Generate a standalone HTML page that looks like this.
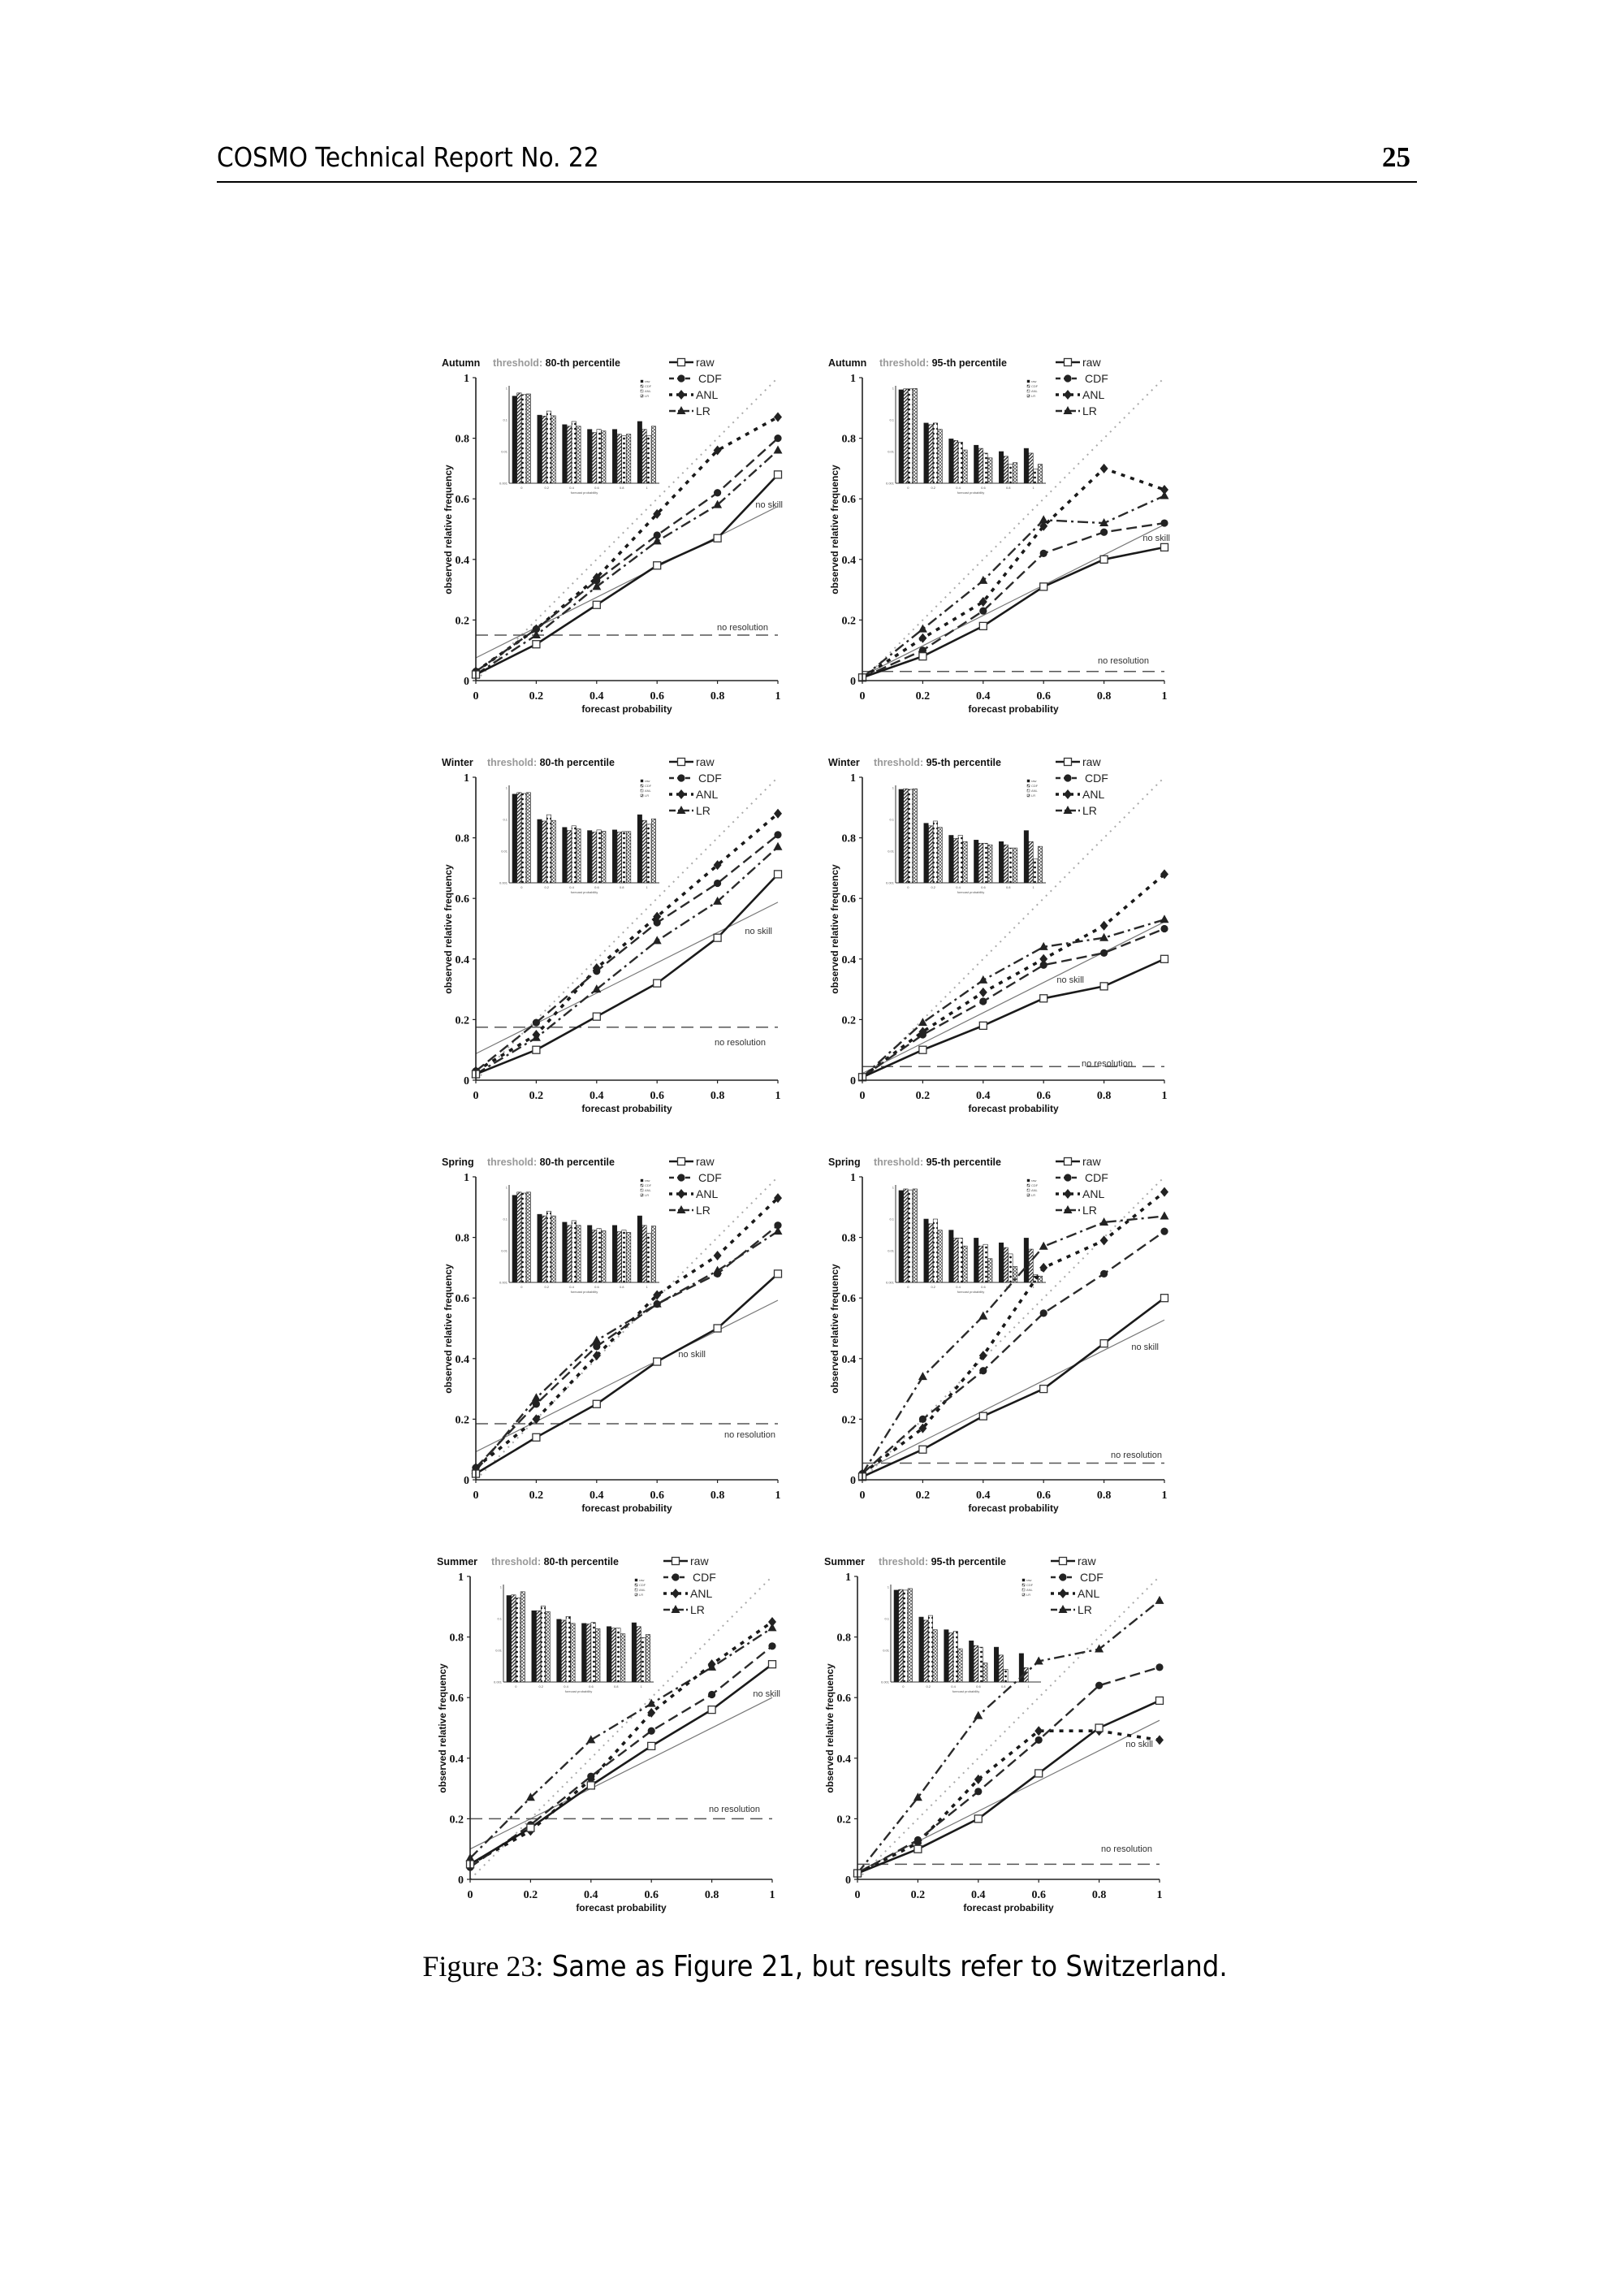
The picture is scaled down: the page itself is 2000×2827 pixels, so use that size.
<!DOCTYPE html>
<html><head><meta charset="utf-8">
<style>
html,body{margin:0;padding:0;background:#fff;}
body{width:2000px;height:2827px;position:relative;overflow:hidden;}
.hdr{position:absolute;left:267px;top:174px;font-family:"DejaVu Sans Condensed","DejaVu Sans","Liberation Sans",sans-serif;font-size:33px;color:#000;}
.pg{position:absolute;left:1702px;top:174px;font-family:"Liberation Serif",serif;font-weight:bold;font-size:35px;}
.rule{position:absolute;left:267px;top:223px;width:1478px;height:2px;background:#000;}
.cap{position:absolute;left:0;width:2032px;top:2400px;text-align:center;font-family:"DejaVu Sans Condensed","DejaVu Sans",sans-serif;font-size:36px;}
.cap span{font-family:"Liberation Serif",serif;}
svg{position:absolute;left:0;top:0;}
.t{font-family:"Liberation Sans",sans-serif;font-weight:bold;font-size:12.5px;fill:#111;}
.lg{font-family:"Liberation Sans",sans-serif;font-size:14px;fill:#222;}
.tk{font-family:"Liberation Serif",serif;font-weight:bold;font-size:14px;fill:#111;}
.al{font-family:"Liberation Sans",sans-serif;font-weight:bold;font-size:12px;fill:#111;}
.nn{font-family:"Liberation Sans",sans-serif;font-size:11px;fill:#333;}
.mi{font-family:"Liberation Sans",sans-serif;font-size:4px;fill:#555;}
</style></head><body>
<div class="hdr">COSMO Technical Report No. 22</div>
<div class="pg">25</div>
<div class="rule"></div>
<div class="cap"><span>Figure 23:</span> Same as Figure 21, but results refer to Switzerland.</div>
<svg id="s" width="2000" height="2827" xmlns="http://www.w3.org/2000/svg">
<defs>
<pattern id="ph" width="3" height="3" patternUnits="userSpaceOnUse" patternTransform="rotate(45)"><rect width="3" height="3" fill="#fff"/><rect width="1.3" height="3" fill="#222"/></pattern>
<pattern id="pd" width="5" height="6" patternUnits="userSpaceOnUse"><rect width="5" height="6" fill="#fff"/><circle cx="2.5" cy="3" r="1.4" fill="#111"/></pattern>
<pattern id="px" width="4" height="4" patternUnits="userSpaceOnUse"><rect width="4" height="4" fill="#fff"/><path d="M0 0L4 4M4 0L0 4" stroke="#444" stroke-width="0.7"/></pattern>
</defs>
<g id="p0" transform="translate(586,465)">
<text class="t" x="-42" y="-14">Autumn</text><text class="t" x="21" y="-14"><tspan fill="#999">threshold:</tspan> 80-th percentile</text>
<text class="nn" x="378" y="160" text-anchor="end">no skill</text><text class="nn" x="360" y="311" text-anchor="end">no resolution</text>
</g>
<g id="p1" transform="translate(1062,465)">
<text class="t" x="-42" y="-14">Autumn</text><text class="t" x="21" y="-14"><tspan fill="#999">threshold:</tspan> 95-th percentile</text>
<text class="nn" x="379" y="201" text-anchor="end">no skill</text><text class="nn" x="353" y="352" text-anchor="end">no resolution</text>
</g>
<g id="p2" transform="translate(586,957)">
<text class="t" x="-42" y="-14">Winter</text><text class="t" x="14" y="-14"><tspan fill="#999">threshold:</tspan> 80-th percentile</text>
<text class="nn" x="365" y="193" text-anchor="end">no skill</text><text class="nn" x="357" y="330" text-anchor="end">no resolution</text>
</g>
<g id="p3" transform="translate(1062,957)">
<text class="t" x="-42" y="-14">Winter</text><text class="t" x="14" y="-14"><tspan fill="#999">threshold:</tspan> 95-th percentile</text>
<text class="nn" x="273" y="253" text-anchor="end">no skill</text><text class="nn" x="333" y="356" text-anchor="end">no resolution</text>
</g>
<g id="p4" transform="translate(586,1449)">
<text class="t" x="-42" y="-14">Spring</text><text class="t" x="14" y="-14"><tspan fill="#999">threshold:</tspan> 80-th percentile</text>
<text class="nn" x="283" y="222" text-anchor="end">no skill</text><text class="nn" x="369" y="321" text-anchor="end">no resolution</text>
</g>
<g id="p5" transform="translate(1062,1449)">
<text class="t" x="-42" y="-14">Spring</text><text class="t" x="14" y="-14"><tspan fill="#999">threshold:</tspan> 95-th percentile</text>
<text class="nn" x="365" y="213" text-anchor="end">no skill</text><text class="nn" x="369" y="346" text-anchor="end">no resolution</text>
</g>
<g id="p6" transform="translate(579,1941)">
<text class="t" x="-41" y="-14">Summer</text><text class="t" x="26" y="-14"><tspan fill="#999">threshold:</tspan> 80-th percentile</text>
<text class="nn" x="382" y="148" text-anchor="end">no skill</text><text class="nn" x="357" y="290" text-anchor="end">no resolution</text>
</g>
<g id="p7" transform="translate(1056,1941)">
<text class="t" x="-41" y="-14">Summer</text><text class="t" x="26" y="-14"><tspan fill="#999">threshold:</tspan> 95-th percentile</text>
<text class="nn" x="364" y="210" text-anchor="end">no skill</text><text class="nn" x="363" y="339" text-anchor="end">no resolution</text>
</g>
</svg>
<svg width="0" height="0" style="display:none">
<text>raw CDF ANL LR 0 0.2 0.4 0.6 0.8 1 forecast probability observed relative frequency</text>
</svg>
<script>
(function(){
var NS="http://www.w3.org/2000/svg",W=372,H=373;
function el(p,n,a,t){var e=document.createElementNS(NS,n);for(var k in a)e.setAttribute(k,a[k]);if(t!=null)e.textContent=t;p.appendChild(e);return e;}
var P=[
{c:.15,d:[[.02,.12,.25,.38,.47,.68],[.03,.17,.33,.48,.62,.80],[.03,.17,.34,.55,.76,.87],[.02,.15,.31,.46,.58,.76]],b:[[.25,.15,.2,.18],[.85,.88,.72,.87],[1.15,1.2,1.05,1.2],[1.3,1.4,1.3,1.35],[1.3,1.45,1.5,1.45],[1.05,1.3,1.5,1.2]]},
{c:.03,d:[[.01,.08,.18,.31,.40,.44],[.01,.10,.23,.42,.49,.52],[.01,.14,.26,.51,.70,.63],[.01,.17,.33,.53,.52,.61]],b:[[.05,.02,.02,.01],[1.1,1.15,1.1,1.3],[1.6,1.65,1.7,1.95],[1.8,1.9,2.05,2.2],[2.0,2.15,2.4,2.35],[1.9,2.05,2.55,2.4]]},
{c:.175,d:[[.02,.10,.21,.32,.47,.68],[.03,.19,.36,.52,.65,.81],[.03,.15,.37,.54,.71,.88],[.02,.14,.30,.46,.59,.77]],b:[[.2,.15,.18,.15],[1.0,1.05,.85,1.03],[1.25,1.35,1.2,1.3],[1.35,1.4,1.33,1.37],[1.33,1.4,1.38,1.38],[.85,1.03,1.15,.98]]},
{c:.045,d:[[.01,.10,.18,.27,.31,.40],[.01,.15,.26,.38,.42,.50],[.01,.16,.29,.40,.51,.68],[.01,.19,.33,.44,.47,.53]],b:[[.05,.03,.05,.03],[1.12,1.2,1.05,1.25],[1.5,1.6,1.5,1.7],[1.65,1.75,1.75,1.8],[1.7,1.8,1.9,1.9],[1.35,1.7,2.25,1.85]]},
{c:.185,d:[[.02,.14,.25,.39,.50,.68],[.04,.25,.44,.58,.68,.84],[.04,.20,.41,.61,.74,.93],[.03,.27,.46,.58,.69,.82]],b:[[.25,.15,.18,.15],[.85,.9,.75,.9],[1.1,1.2,1.05,1.2],[1.2,1.35,1.3,1.37],[1.2,1.4,1.35,1.42],[.9,1.2,1.45,1.22]]},
{c:.055,d:[[.01,.10,.21,.30,.45,.60],[.02,.20,.36,.55,.68,.82],[.02,.17,.41,.70,.79,.95],[.02,.34,.54,.77,.85,.87]],b:[[.1,.05,.08,.05],[1.0,1.15,1.0,1.35],[1.35,1.6,1.6,1.85],[1.6,1.85,1.8,2.25],[1.75,1.9,2.1,2.5],[1.6,1.95,2.75,2.8]]},
{c:.2,d:[[.05,.17,.31,.44,.56,.71],[.04,.18,.34,.49,.61,.77],[.05,.16,.33,.55,.71,.85],[.07,.27,.46,.58,.70,.83]],b:[[.27,.25,.35,.15],[.75,.75,.6,.78],[1.02,1.05,.93,1.15],[1.15,1.17,1.12,1.32],[1.25,1.3,1.3,1.48],[1.13,1.25,1.6,1.5]]},
{c:.05,d:[[.02,.10,.20,.35,.50,.59],[.02,.13,.29,.46,.64,.70],[.02,.12,.33,.49,.49,.46],[.02,.27,.54,.72,.76,.92]],b:[[.1,.08,.1,.05],[.95,1.05,.9,1.35],[1.35,1.45,1.4,1.95],[1.7,1.85,1.9,2.4],[1.9,2.15,2.6,9],[2.1,2.55,9,9]]}
];
var styles=[
{dash:"",w:2.6,col:"#1a1a1a",m:"sq"},
{dash:"13 6",w:2.4,col:"#2a2a2a",m:"ci"},
{dash:"5 7",w:3.6,col:"#1a1a1a",m:"di"},
{dash:"13 5 3 5",w:2.4,col:"#2a2a2a",m:"tr"}];
function mark(g,t,x,y){
 if(t=="sq")el(g,"rect",{x:x-4.5,y:y-4.5,width:9,height:9,fill:"#fff",stroke:"#333","stroke-width":1.3});
 else if(t=="ci")el(g,"circle",{cx:x,cy:y,r:4.6,fill:"#222"});
 else if(t=="di")el(g,"path",{d:"M"+x+" "+(y-6)+"L"+(x+5)+" "+y+"L"+x+" "+(y+6)+"L"+(x-5)+" "+y+"Z",fill:"#222"});
 else el(g,"path",{d:"M"+x+" "+(y-6)+"L"+(x+5.5)+" "+(y+4)+"L"+(x-5.5)+" "+(y+4)+"Z",fill:"#222"});
}
var fills=["#1a1a1a","url(#ph)","url(#pd)","url(#px)"];
P.forEach(function(p,i){
 var g=document.getElementById("p"+i);
 var X=function(v){return v*W},Y=function(v){return H-v*H};
 var ix0=41,ix1=226,iy0=13,iy1=130,dec=39;
 el(g,"line",{x1:ix0,y1:iy0-3,x2:ix0,y2:iy1,stroke:"#333","stroke-width":1});
 el(g,"line",{x1:ix0,y1:iy1,x2:ix1,y2:iy1,stroke:"#333","stroke-width":1});
 var gw=(ix1-ix0)/6;
 for(var k=0;k<6;k++){for(var j=0;j<4;j++){var d=p.b[k][j];if(d>3)continue;var top=iy0+d*dec;
   el(g,"rect",{x:ix0+k*gw+4+j*5.7,y:top,width:5.4,height:iy1-top,fill:fills[j],stroke:"#222","stroke-width":0.6});}
   el(g,"text",{class:"mi",x:ix0+k*gw+gw/2,y:iy1+7,"text-anchor":"middle"},["0","0.2","0.4","0.6","0.8","1"][k]);}
 ["1","0.1","0.01","0.001"].forEach(function(s,q){el(g,"text",{class:"mi",x:ix0-2,y:iy0+q*dec+1.5,"text-anchor":"end"},s);});
 el(g,"text",{class:"mi",x:(ix0+ix1)/2,y:iy1+13,"text-anchor":"middle"},"forecast probability");
 ["raw","CDF","ANL","LR"].forEach(function(s,q){el(g,"rect",{x:203,y:3+q*6,width:3,height:3,fill:fills[q],stroke:"#222","stroke-width":.4});el(g,"text",{class:"mi",x:208,y:6+q*6},s);});
 el(g,"line",{x1:0,y1:H,x2:W,y2:0,stroke:"#aaa","stroke-width":2,"stroke-dasharray":"2 6"});
 el(g,"line",{x1:0,y1:Y(p.c/2),x2:W,y2:Y((1+p.c)/2),stroke:"#777","stroke-width":1.2});
 el(g,"line",{x1:0,y1:Y(p.c),x2:W,y2:Y(p.c),stroke:"#555","stroke-width":1.5,"stroke-dasharray":"15 8"});
 for(var s=3;s>=0;s--){var st=styles[s],pts=p.d[s].map(function(v,k){return X(k*.2)+","+Y(v)}).join(" ");
  var a={points:pts,fill:"none",stroke:st.col,"stroke-width":st.w,"stroke-linejoin":"round"};if(st.dash)a["stroke-dasharray"]=st.dash;el(g,"polyline",a);
  p.d[s].forEach(function(v,k){mark(g,st.m,X(k*.2),Y(v));});}
 el(g,"line",{x1:0,y1:0,x2:0,y2:H,stroke:"#222","stroke-width":1.6});
 el(g,"line",{x1:0,y1:H,x2:W,y2:H,stroke:"#222","stroke-width":1.6});
 ["0","0.2","0.4","0.6","0.8","1"].forEach(function(s,k){var v=k*.2;
  el(g,"line",{x1:-4,y1:Y(v),x2:0,y2:Y(v),stroke:"#222","stroke-width":1.2});
  el(g,"line",{x1:X(v),y1:H,x2:X(v),y2:H+4,stroke:"#222","stroke-width":1.2});
  el(g,"text",{class:"tk",x:-8,y:Y(v)+5,"text-anchor":"end"},s);
  el(g,"text",{class:"tk",x:X(v),y:H+23,"text-anchor":"middle"},s);});
 el(g,"text",{class:"al",x:186,y:H+39,"text-anchor":"middle"},"forecast probability");
 el(g,"text",{class:"al",x:0,y:0,"text-anchor":"middle",transform:"translate(-30,187) rotate(-90)"},"observed relative frequency");
 ["raw","CDF","ANL","LR"].forEach(function(s,q){var st=styles[q],y=-19+q*20;
  var a={x1:238,y1:y,x2:268,y2:y,stroke:st.col,"stroke-width":st.w};if(st.dash)a["stroke-dasharray"]=q==1?"6 4":(q==2?"4 5":"8 3 3 3");el(g,"line",a);
  mark(g,st.m,253,y);
  el(g,"text",{class:"lg",x:q==1?274:271,y:y+5},s);});
});
})();
</script>
</body></html>
